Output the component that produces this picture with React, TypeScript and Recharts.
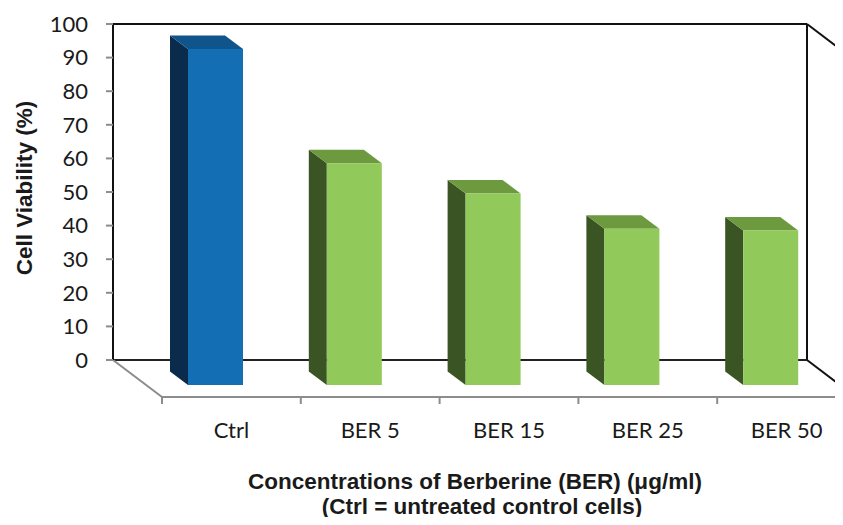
import { BarChart, Bar, XAxis, YAxis, Customized } from "recharts";

// ─── Data ─────────────────────────────────────────────────────────────────────
const CATEGORIES = ["Ctrl", "BER 5", "BER 15", "BER 25", "BER 50"];
const VIABILITY = [100, 66, 57, 46.5, 46];
const Y_TICKS = [0, 10, 20, 30, 40, 50, 60, 70, 80, 90, 100];

const data = CATEGORIES.map((name, i) => ({ name, value: VIABILITY[i] }));

// ─── Layout ───────────────────────────────────────────────────────────────────
const W = 843;
const H = 525;
const Y_AXIS_W = 60;
const X_AXIS_H = 30;
// plot area (= back wall): x 113..807, y 24..360
const PLOT_L = 113;
const PLOT_T = 24;
const PLOT_R = 807;
const PLOT_B = 360;
const MARGIN = {
  top: PLOT_T,
  right: W - PLOT_R,
  left: PLOT_L - Y_AXIS_W,
  bottom: H - PLOT_B - X_AXIS_H,
};
// depth of the floor, and where the bar sits inside it
const DEPTH = { dx: 49, dy: 37 };
const BAR_BACK = { dx: 15, dy: 11.5 };
const BAR_FRONT = { dx: 33, dy: 25 };

const TICK_FONT = "Lato, 'Open Sans', sans-serif";
const TITLE_FONT = "'Liberation Sans', Arial, sans-serif";

const PALETTE = {
  blue: { front: "#136EB4", side: "#0B2B4C", top: "#10548C" },
  green: { front: "#92C95B", side: "#3A5424", top: "#6E9A3F" },
};

// ─── 3D column ────────────────────────────────────────────────────────────────
function Column3D(props: any) {
  const { x, y, width: w, height: h, payload } = props;
  if (h == null || h <= 0) return null;
  const c = payload.name === "Ctrl" ? PALETTE.blue : PALETTE.green;
  const bx = x + BAR_BACK.dx;
  const by = y + BAR_BACK.dy;
  const fx = x + BAR_FRONT.dx;
  const fy = y + BAR_FRONT.dy;
  return (
    <g>
      <polygon
        points={`${bx},${by} ${fx},${fy} ${fx},${fy + h} ${bx},${by + h}`}
        fill={c.side}
      />
      <polygon
        points={`${bx},${by} ${bx + w},${by} ${fx + w},${fy} ${fx},${fy}`}
        fill={c.top}
      />
      <rect x={fx} y={fy} width={w} height={h} fill={c.front} />
    </g>
  );
}

// ─── Walls, floor and titles ──────────────────────────────────────────────────
function Walls() {
  const slope = DEPTH.dy / DEPTH.dx;
  const bandW = (PLOT_R - PLOT_L) / CATEGORIES.length;
  const frontY = PLOT_B + DEPTH.dy;
  const titleStyle = {
    fontFamily: TITLE_FONT,
    fontWeight: "bold" as const,
    fontSize: 22.5,
    fill: "#1a1a1a",
  };
  return (
    <g>
      {/* back wall */}
      <line x1={PLOT_L} y1={PLOT_T} x2={PLOT_R} y2={PLOT_T} stroke="#111" strokeWidth={2} />
      <line x1={PLOT_R} y1={PLOT_T} x2={PLOT_R} y2={PLOT_B} stroke="#111" strokeWidth={2} />
      <line x1={PLOT_L} y1={PLOT_B} x2={PLOT_R} y2={PLOT_B} stroke="#222" strokeWidth={2} />
      {/* right side wall */}
      <line x1={PLOT_R} y1={PLOT_T} x2={W} y2={PLOT_T + (W - PLOT_R) * slope} stroke="#111" strokeWidth={2} />
      <line x1={PLOT_R} y1={PLOT_B} x2={W} y2={PLOT_B + (W - PLOT_R) * slope} stroke="#111" strokeWidth={2} />
      {/* floor */}
      <line x1={PLOT_L} y1={PLOT_B} x2={PLOT_L + DEPTH.dx} y2={frontY} stroke="#8c8c8c" strokeWidth={2} />
      <line x1={PLOT_L + DEPTH.dx} y1={frontY} x2={W} y2={frontY} stroke="#8c8c8c" strokeWidth={2} />
      {CATEGORIES.map((_, i) => (
        <line
          key={i}
          x1={PLOT_L + DEPTH.dx + i * bandW}
          y1={frontY}
          x2={PLOT_L + DEPTH.dx + i * bandW}
          y2={frontY + 7}
          stroke="#8c8c8c"
          strokeWidth={2}
        />
      ))}
      {/* axis titles */}
      <text
        x={24}
        y={188}
        transform="rotate(-90 24 188)"
        textAnchor="middle"
        dominantBaseline="central"
        {...titleStyle}
      >
        Cell Viability (%)
      </text>
      <text x={475} y={489} textAnchor="middle" {...titleStyle}>
        Concentrations of Berberine (BER) (μg/ml)
      </text>
      <text x={482} y={514} textAnchor="middle" {...titleStyle}>
        (Ctrl = untreated control cells)
      </text>
    </g>
  );
}

function CategoryTick(props: any) {
  const { x, payload } = props;
  return (
    <text
      x={x + DEPTH.dx}
      y={PLOT_B + 78}
      textAnchor="middle"
      fontFamily={TICK_FONT}
      fontSize={22}
      fill="#1a1a1a"
    >
      {payload.value}
    </text>
  );
}

export default function App() {
  return (
    <div style={{ width: W, height: H, margin: -8 }}>
      <BarChart width={W} height={H} data={data} margin={MARGIN}>
        <Customized component={<Walls />} />
        <XAxis
          dataKey="name"
          height={X_AXIS_H}
          axisLine={false}
          tickLine={false}
          tick={<CategoryTick />}
          interval={0}
        />
        <YAxis
          width={Y_AXIS_W}
          domain={[0, 100]}
          ticks={Y_TICKS}
          interval={0}
          axisLine={{ stroke: "#111", strokeWidth: 2 }}
          tickLine={{ stroke: "#8c8c8c", strokeWidth: 2 }}
          tickSize={7}
          tickMargin={18}
          tick={{ fontFamily: TICK_FONT, fontSize: 22, fill: "#1a1a1a" }}
        />
        <Bar
          dataKey="value"
          barSize={55}
          shape={<Column3D />}
          isAnimationActive={false}
        />
      </BarChart>
    </div>
  );
}
